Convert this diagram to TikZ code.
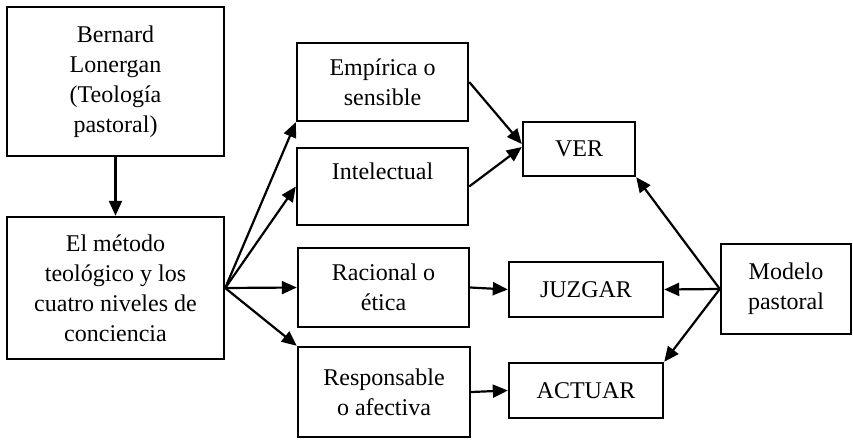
\documentclass[tikz,border=0pt]{standalone}
\usepackage{fontspec}
\setmainfont{Liberation Serif}
\usepackage{tikz}
\usetikzlibrary{arrows.meta}

\begin{document}
\begin{tikzpicture}[x=1pt,y=-1pt,
      box/.style={rectangle,draw,line width=2.4pt,align=center,inner sep=2pt,
                  font=\fontsize{24}{30}\selectfont},
      flecha/.style={line width=2.2pt,-{Triangle[length=15pt,width=13pt]}}]
    \useasboundingbox (0,0) rectangle (853,439);
    \node[box,minimum width=217,minimum height=149] (bernard)     at(115.5,81.5){Bernard\\Lonergan\\(Teología\\pastoral)};
    \node[box,minimum width=217,minimum height=142] (metodo)      at(115.5,288){El método\\teológico y los\\cuatro niveles de\\conciencia};
    \node[box,minimum width=171,minimum height=78]  (empirica)    at(382.5,82){Empírica o\\sensible};
    \node[box,minimum width=171,minimum height=77]  (intelectual) at(382.5,186.5){Intelectual\\~};
    \node[box,minimum width=171,minimum height=79]  (racional)    at(383.5,287.5){Racional o\\ética};
    \node[box,minimum width=172,minimum height=90]  (responsable) at(384,392){Responsable\\o afectiva};
    \node[box,minimum width=112,minimum height=54]  (ver)         at(579,149){VER};
    \node[box,minimum width=154,minimum height=55]  (juzgar)      at(586,289.5){JUZGAR};
    \node[box,minimum width=154,minimum height=55]  (actuar)      at(586,390.5){ACTUAR};
    \node[box,minimum width=130,minimum height=90]  (modelo)      at(786,289){Modelo\\pastoral};

    \draw[flecha] (bernard) -- (metodo);
    \draw[flecha] (metodo.east) -- (empirica.south west);
    \draw[flecha] (metodo.east) -- (intelectual.west);
    \draw[flecha] (metodo.east) -- (racional.west);
    \draw[flecha] (metodo.east) -- (responsable.north west);
    \draw[flecha] (empirica.east) -- ([yshift=5pt]ver.west);
    \draw[flecha] (intelectual.east) -- ([yshift=2pt]ver.west);
    \draw[flecha] (racional.east) -- (juzgar.west);
    \draw[flecha] (responsable.east) -- (actuar.west);
    \draw[flecha] (modelo.west) -- (ver.south east);
    \draw[flecha] (modelo.west) -- (juzgar.east);
    \draw[flecha] (modelo.west) -- (actuar.north east);
  \end{tikzpicture}
\end{document}
